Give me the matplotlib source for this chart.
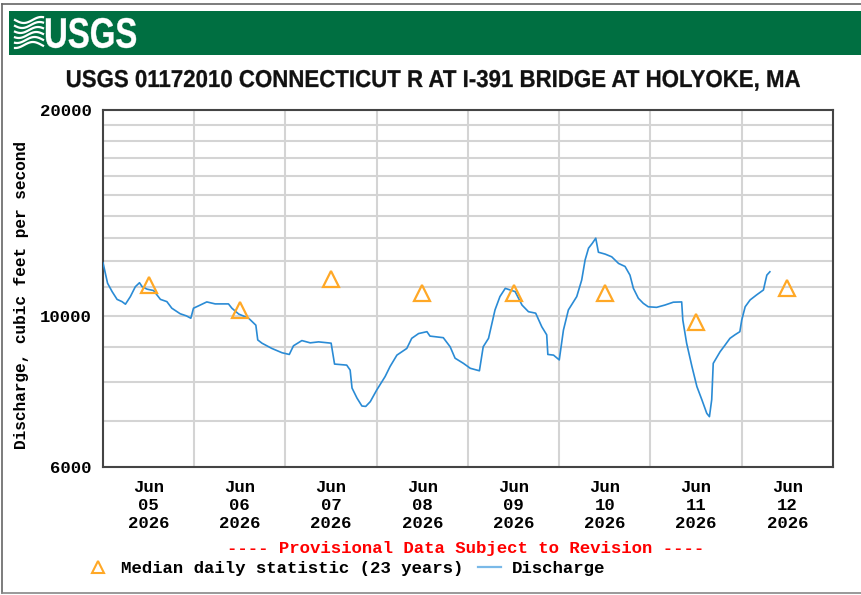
import numpy as np
import matplotlib
matplotlib.use('Agg')
import matplotlib.pyplot as plt
from matplotlib import font_manager
from matplotlib.ticker import FixedLocator, NullFormatter
from matplotlib.textpath import TextPath
from matplotlib.font_manager import FontProperties
from matplotlib.patches import PathPatch, Rectangle
from matplotlib.lines import Line2D
from matplotlib.transforms import Affine2D

# discharge, hours after Jun 05 2026 00:00, cubic feet per second
hours = [0, 1.2, 2.4, 3.7, 5.0, 5.9, 7.2, 8.5, 9.6, 10.3, 11.6, 13.3, 15.1, 16.8,
         18.1, 20.3, 21.9, 23.1, 23.8, 25.1, 27.3, 29.5, 33.0, 33.9, 35.7, 38.3,
         40.2, 40.7, 41.8, 44.4, 47.1, 49.0, 50.1, 52.3, 54.5, 56.7, 60.0, 60.9,
         64.1, 65.0, 65.5, 66.8, 68.1, 69.1, 70.3, 72.0, 74.2, 75.5, 77.3, 79.9,
         81.2, 83.0, 85.2, 86.0, 89.5, 91.3, 92.6, 94.8, 96.6, 99.0, 100.0, 101.4,
         103.1, 104.4, 105.8, 108.4, 110.2, 111.9, 113.8, 115.4, 116.7, 117.0,
         118.5, 120.0, 121.1, 122.4, 124.6, 125.9, 126.8, 127.7, 128.7, 129.6,
         130.3, 132.1, 133.8, 135.6, 137.3, 138.6, 139.5, 140.8, 142.1, 143.4,
         145.6, 147.8, 150.0, 152.2, 152.5, 153.5, 154.9, 156.2, 157.5, 158.8,
         159.5, 160.1, 160.5, 162.3, 163.6, 164.9, 166.2, 167.5, 168.0, 168.9,
         170.2, 171.9, 173.7, 174.1, 174.6, 175.4]
flow = [11950, 11150, 10840, 10560, 10480, 10390, 10660, 11020, 11170, 11020,
        10930, 10880, 10560, 10480, 10250, 10060, 9990, 9910, 10250, 10330,
        10470, 10400, 10400, 10250, 10050, 9910, 9680, 9210, 9110, 8950, 8820,
        8770, 9030, 9190, 9120, 9150, 9110, 8490, 8460, 8320, 7830, 7570, 7370,
        7360, 7480, 7780, 8140, 8420, 8750, 8950, 9260, 9410, 9470, 9330, 9280,
        9000, 8660, 8510, 8370, 8300, 9000, 9260, 10190, 10660, 10960, 10840,
        10360, 10130, 10080, 9630, 9370, 8770, 8750, 8610, 9520, 10190, 10660,
        11270, 12060, 12550, 12760, 12980, 12380, 12300, 12190, 11920, 11800,
        11460, 10960, 10600, 10420, 10300, 10280, 10360, 10460, 10470, 9850,
        9110, 8420, 7870, 7530, 7190, 7110, 7530, 8510, 8850, 9050, 9260, 9370,
        9470, 9850, 10300, 10540, 10720, 10900, 11150, 11460, 11590]

# median daily statistic (23 years), plotted at noon
median_hours = [12, 36, 60, 84, 108, 132, 156, 180]
median_flow = [11100, 10190, 11300, 10800, 10800, 10800, 9800, 10980]

day_labels = ['Jun\n05\n2026', 'Jun\n06\n2026', 'Jun\n07\n2026', 'Jun\n08\n2026',
              'Jun\n09\n2026', 'Jun\n10\n2026', 'Jun\n11\n2026', 'Jun\n12\n2026']
day_edges = [24, 48, 72, 96, 120, 144, 168]
y_major = [6000, 10000, 20000]
y_minor = [7000, 8000, 9000, 11000, 12000, 13000, 14000, 15000, 16000,
           17000, 18000, 19000]

W, H = 862, 595
names = {f.name for f in font_manager.fontManager.ttflist}
mono = 'Liberation Mono' if 'Liberation Mono' in names else 'DejaVu Sans Mono'
msize = 12.5


def fx(x):
    return x / W


def fy(y):
    return 1 - y / H


fig = plt.figure(figsize=(W / 100, H / 100), dpi=100)

# outer frame and banner
fig.add_artist(Line2D([fx(2), fx(2)], [fy(4), fy(593)], color='#666666', lw=1.2))
fig.add_artist(Line2D([fx(2), 1], [fy(4), fy(4)], color='#666666', lw=1.2))
fig.add_artist(Line2D([fx(2), 1], [fy(593), fy(593)], color='#888888', lw=1.2))
fig.add_artist(Rectangle((fx(9), fy(55)), 1 - fx(9), (55 - 11) / H,
                         transform=fig.transFigure, color='#006F41', lw=0))

# USGS wordmark, squeezed into its box
tp = TextPath((0, 0), 'USGS', size=1, prop=FontProperties(family='Liberation Sans', weight='bold'))
ext = tp.get_extents()
bx0, bx1, by0, by1 = 46, 136, 18, 48
tr = (Affine2D().translate(-ext.x0, -ext.y0)
      .scale((bx1 - bx0) / ext.width / W, (by1 - by0) / ext.height / H)
      .translate(fx(bx0), fy(by1)) + fig.transFigure)
fig.add_artist(PathPatch(tp, facecolor='white', edgecolor='white', lw=0.3, transform=tr))

# wave icon
t = np.linspace(0, 1, 40)
for k in range(6):
    yy = 20 + k * 5 + 3 * np.sin(t * np.pi * 1.6 + k * 0.3)
    fig.add_artist(Line2D(fx(15 + t * 28), fy(yy), color='white', lw=1.6))

# title, drawn as a path so it can be narrowed like the original
title = 'USGS 01172010 CONNECTICUT R AT I-391 BRIDGE AT HOLYOKE, MA'
tp2 = TextPath((0, 0), title, size=1, prop=FontProperties(family='Liberation Sans', weight='bold'))
e2 = tp2.get_extents()
base = TextPath((0, 0), 'U', size=1, prop=FontProperties(family='Liberation Sans', weight='bold')).get_extents()
cap = 17.0 / base.height
tx0, tx1, tbase = 67, 800, 87
tr2 = (Affine2D().translate(-e2.x0, 0)
       .scale((tx1 - tx0) / e2.width / W, cap / H)
       .translate(fx(tx0), fy(tbase)) + fig.transFigure)
fig.add_artist(PathPatch(tp2, facecolor='#111111', edgecolor='#111111', lw=0.2, transform=tr2))

ax = fig.add_axes([fx(103), fy(467), (833 - 103) / W, (467 - 110) / H])
ax.set_yscale('log')
ax.plot(hours, flow, color='#2a8bd5', lw=1.2, zorder=3)
ax.plot(median_hours, median_flow, linestyle='none', marker='^', ms=11,
        mfc='none', mec='#FFA826', mew=1.6, zorder=4)

ax.set_xlim(0, 192)
ax.set_ylim(6000, 20000)
ax.xaxis.set_major_locator(FixedLocator(day_edges))
ax.xaxis.set_major_formatter(NullFormatter())
ax.set_xticks(median_hours, minor=True)
ax.set_xticklabels(day_labels, minor=True, family=mono, fontweight='bold',
                   fontsize=msize, linespacing=1.25)
ax.yaxis.set_major_locator(FixedLocator(y_major))
ax.set_yticklabels([str(v) for v in y_major], family=mono, fontweight='bold', fontsize=msize)
ax.yaxis.set_minor_locator(FixedLocator(y_minor))
ax.yaxis.set_minor_formatter(NullFormatter())
ax.tick_params(axis='both', which='both', length=0)
ax.tick_params(axis='x', which='minor', pad=9)
ax.tick_params(axis='y', pad=8)
ax.grid(axis='x', which='major', color='#d4d4d4', lw=1.5)
ax.grid(axis='y', which='both', color='#d4d4d4', lw=1.5)
for s in ax.spines.values():
    s.set_color('#444444')
    s.set_linewidth(1.5)

fig.text(fx(22), fy(295), 'Discharge, cubic feet per second', rotation=90,
         ha='center', va='center', family=mono, fontweight='bold', fontsize=11.6)

fig.text(fx(466), fy(549), '---- Provisional Data Subject to Revision ----',
         ha='center', va='center', color='#FF0000', family=mono, fontweight='bold',
         fontsize=msize)

# legend
fig.add_artist(Line2D([fx(98)], [fy(567)], marker='^', ms=8.5, mfc='none',
                      mec='#FFA826', mew=1.5, linestyle='none'))
fig.text(fx(121), fy(568), 'Median daily statistic (23 years)', ha='left', va='center',
         family=mono, fontweight='bold', fontsize=msize)
fig.add_artist(Line2D([fx(478), fx(501)], [fy(567), fy(567)], color='#7ab9e8', lw=1.6))
fig.text(fx(512), fy(568), 'Discharge', ha='left', va='center',
         family=mono, fontweight='bold', fontsize=msize)

fig.savefig('out.png', dpi=100)
